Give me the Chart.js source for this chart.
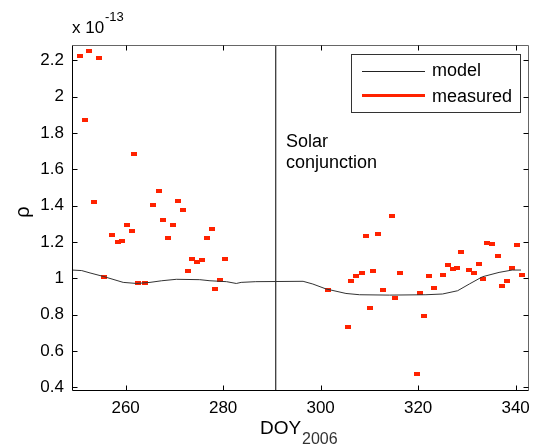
<!DOCTYPE html>
<html>
<head>
<meta charset="utf-8">
<script src="https://cdn.jsdelivr.net/npm/chart.js@4.4.0/dist/chart.umd.min.js"></script>
<style>
  body { margin: 0; background: #fff; }
  #chart { display: block; }
</style>
</head>
<body>
<canvas id="chart" width="537" height="444"></canvas>
<script>
// data (values in units of 1e-13)
const xTicks = [260, 280, 300, 320, 340];
const yTicks = [0.4, 0.6, 0.8, 1, 1.2, 1.4, 1.6, 1.8, 2, 2.2];

const modelDays = [249, 251, 252.7, 255.4, 259.5, 262.3, 265.0, 267.4, 270.4, 275.2, 277.3, 280.7, 282.7, 283.7, 286.7,
    296.4, 298.4, 301.1, 305.2, 308.0, 314.1, 321.6, 325.0, 328.1, 330.5, 333.2, 336.6, 339.3, 341.1];
const modelValues = [1.046, 1.043, 1.03, 1.011, 0.978, 0.972, 0.978, 0.987, 0.995, 0.993, 0.987, 0.982, 0.972, 0.978, 0.982,
    0.984, 0.969, 0.942, 0.917, 0.910, 0.908, 0.910, 0.914, 0.932, 0.969, 1.009, 1.033, 1.046, 1.046];

const measuredDays = [250.6, 252.5, 254.6, 251.6, 261.8, 253.6, 266.8, 265.7, 270.7, 271.7,
    267.7, 269.7, 260.2, 261.3, 257.2, 258.4, 259.3, 268.7, 276.6, 277.7,
    273.6, 274.7, 275.6, 272.7, 280.3, 255.6, 262.6, 263.9, 279.3, 278.4,
    301.5, 305.6, 306.3, 307.3, 308.4, 309.3, 310.2, 310.8, 311.8, 312.8,
    314.7, 315.3, 316.2, 319.8, 320.3, 321.3, 322.3, 323.3, 325.1, 326.1,
    327.1, 328.0, 328.9, 330.5, 331.4, 332.4, 333.3, 334.2, 335.2, 336.4,
    337.2, 338.3, 339.3, 340.3, 341.3];
const measuredValues = [2.227, 2.254, 2.216, 1.874, 1.683, 1.423, 1.483, 1.402, 1.428, 1.378,
    1.32, 1.292, 1.292, 1.259, 1.239, 1.198, 1.204, 1.22, 1.22, 1.27,
    1.107, 1.09, 1.101, 1.041, 1.107, 1.009, 0.976, 0.976, 0.993, 0.943,
    0.938, 0.732, 0.987, 1.013, 1.031, 1.231, 0.835, 1.042, 1.242, 0.938,
    1.342, 0.89, 1.031, 0.471, 0.921, 0.791, 1.013, 0.945, 1.02, 1.074,
    1.052, 1.059, 1.145, 1.048, 1.031, 1.081, 0.998, 1.193, 1.187, 1.123,
    0.96, 0.987, 1.059, 1.182, 1.02];

const conjunctionDay = 290.8;
const xRange = [249, 342.8];
const yRange = [0.38, 2.285];

const FONT = "'Liberation Sans', Arial, Helvetica, sans-serif";
const RED = '#ff2200';

// small red rectangle used as marker
const marker = document.createElement('canvas');
marker.width = 6;
marker.height = 4;
const mctx = marker.getContext('2d');
mctx.fillStyle = RED;
mctx.fillRect(0, 0, 6, 4);

const extras = {
    id: 'extras',
    afterDraw(chart){
        const ctx = chart.ctx;
        const a = chart.chartArea;
        const xs = chart.scales.x;
        const ys = chart.scales.y;
        const L = Math.round(a.left) + 0.5, R = Math.round(a.right) - 0.5;
        const T = Math.round(a.top) + 0.5, B = Math.round(a.bottom) - 0.5;
        ctx.save();
        ctx.lineWidth = 1;

        // box
        ctx.strokeStyle = '#666';
        ctx.beginPath();
        ctx.moveTo(L, T); ctx.lineTo(R, T); ctx.lineTo(R, B);
        ctx.stroke();
        ctx.strokeStyle = '#000';
        ctx.beginPath();
        ctx.moveTo(L, T); ctx.lineTo(L, B); ctx.lineTo(R, B);
        ctx.stroke();

        // inward ticks
        ctx.beginPath();
        xTicks.forEach(v => {
            const px = Math.round(xs.getPixelForValue(v)) + 0.5;
            ctx.moveTo(px, B); ctx.lineTo(px, B - 5);
            ctx.moveTo(px, T); ctx.lineTo(px, T + 5);
        });
        yTicks.forEach(v => {
            const py = Math.round(ys.getPixelForValue(v)) + 0.5;
            ctx.moveTo(L, py); ctx.lineTo(L + 5, py);
            ctx.moveTo(R, py); ctx.lineTo(R - 5, py);
        });
        ctx.stroke();

        // legend
        ctx.fillStyle = '#fff';
        ctx.fillRect(351, 54, 169, 58);
        ctx.strokeStyle = '#333';
        ctx.strokeRect(351.5, 54.5, 169, 58);
        ctx.strokeStyle = '#222';
        ctx.lineWidth = 1;
        ctx.beginPath(); ctx.moveTo(362, 71.5); ctx.lineTo(425, 71.5); ctx.stroke();
        ctx.strokeStyle = RED;
        ctx.lineWidth = 3;
        ctx.beginPath(); ctx.moveTo(362, 95.5); ctx.lineTo(425, 95.5); ctx.stroke();

        ctx.fillStyle = '#000';
        ctx.textBaseline = 'alphabetic';
        ctx.textAlign = 'left';
        ctx.font = '18px ' + FONT;
        ctx.fillText('model', 432, 76);
        ctx.fillText('measured', 432, 102);

        // annotation
        ctx.fillText('Solar', 286, 147);
        ctx.fillText('conjunction', 286, 168);

        // exponent
        ctx.font = '17px ' + FONT;
        ctx.fillText('x 10', 72, 33);
        ctx.font = '13px ' + FONT;
        ctx.fillText('-13', 105, 21);

        // axis titles
        ctx.font = '19px ' + FONT;
        ctx.fillText('DOY', 260, 434);
        ctx.font = '16px ' + FONT;
        ctx.fillStyle = '#333';
        ctx.fillText('2006', 302, 444);

        ctx.fillStyle = '#000';
        ctx.font = '20px ' + FONT;
        ctx.translate(29, 212);
        ctx.rotate(-Math.PI / 2);
        ctx.textAlign = 'center';
        ctx.fillText('\u03c1', 0, 0);
        ctx.restore();
    }
};

const ctx = document.getElementById('chart').getContext('2d');
const myChart = new Chart(ctx, {
    type: 'scatter',
    data: {
        datasets: [{
            label: 'model',
            type: 'line',
            data: modelDays.map((d, i) => ({x: d, y: modelValues[i]})),
            borderColor: '#333',
            borderWidth: 1,
            pointRadius: 0,
            tension: 0,
            fill: false
        }, {
            label: 'conjunction',
            type: 'line',
            data: [{x: conjunctionDay, y: yRange[0]}, {x: conjunctionDay, y: yRange[1]}],
            borderColor: '#000',
            borderWidth: 1,
            pointRadius: 0,
            fill: false
        }, {
            label: 'measured',
            data: measuredDays.map((d, i) => ({x: d, y: measuredValues[i]})),
            pointStyle: marker,
            pointRadius: 3,
            backgroundColor: RED,
            borderColor: RED
        }]
    },
    options: {
        responsive: false,
        animation: false,
        layout: { padding: { top: 45, right: 7, left: 0, bottom: 0 } },
        plugins: {
            legend: { display: false },
            tooltip: { enabled: false }
        },
        scales: {
            x: {
                type: 'linear',
                min: xRange[0],
                max: xRange[1],
                afterBuildTicks: (s) => { s.ticks = xTicks.map(v => ({value: v})); },
                afterFit: (s) => { s.height = 53; },
                grid: { display: false, drawTicks: false },
                border: { display: false },
                ticks: {
                    color: '#000',
                    padding: 7,
                    maxRotation: 0,
                    font: { family: FONT, size: 17 }
                }
            },
            y: {
                type: 'linear',
                min: yRange[0],
                max: yRange[1],
                afterBuildTicks: (s) => { s.ticks = yTicks.map(v => ({value: v})); },
                afterFit: (s) => { s.width = 72; },
                grid: { display: false, drawTicks: false },
                border: { display: false },
                ticks: {
                    color: '#000',
                    padding: 8,
                    font: { family: FONT, size: 17 },
                    callback: (v) => String(Math.round(v * 10) / 10)
                }
            }
        }
    },
    plugins: [extras]
});
</script>
</body>
</html>
